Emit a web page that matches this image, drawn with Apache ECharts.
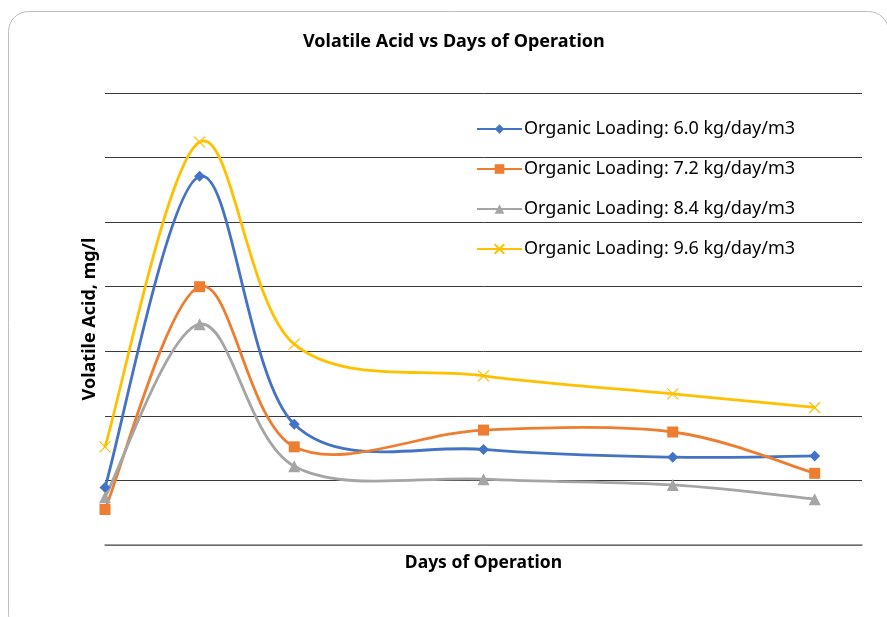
<!DOCTYPE html>
<html>
<head>
<meta charset="utf-8">
<script src="https://cdn.jsdelivr.net/npm/echarts@6/dist/echarts.min.js"></script>
<style>
  html, body { margin: 0; padding: 0; background: #fff; }
  #chart { width: 887px; height: 617px; }
</style>
</head>
<body>
<div id="chart"></div>
<script>
// Values (axis has no tick labels; units are estimated)
const days = [0, 5, 10, 20, 30, 37.5];
const load60 = [8.9, 57.1, 18.7, 14.8, 13.6, 13.8];
const load72 = [5.5, 40.0, 15.2, 17.8, 17.5, 11.1];
const load84 = [7.4, 34.2, 12.2, 10.2, 9.3, 7.1];
const load96 = [15.2, 62.4, 31.1, 26.2, 23.4, 21.3];
const seriesNames = [
    'Organic Loading: 6.0 kg/day/m3',
    'Organic Loading: 7.2 kg/day/m3',
    'Organic Loading: 8.4 kg/day/m3',
    'Organic Loading: 9.6 kg/day/m3'
];
const colors = ['#4472C4', '#ED7D31', '#A5A5A5', '#FFC000'];

const FONT = '"Noto Sans", "Liberation Sans", sans-serif';
const crossPath = 'path://M0,0L10,10M10,0L0,10';
const LINE_W = 2.8;

const pairs = vals => days.map((d, i) => [d, vals[i]]);

// markers + legend entry; the visible curve comes from smoothCurve below
function markerSeries(name, vals, color, symbol, size, extra) {
    return Object.assign({
        name, type: 'line', data: pairs(vals),
        symbol, symbolSize: size,
        lineStyle: { color, width: LINE_W, opacity: 0 },
        itemStyle: { color },
        z: 4
    }, extra || {});
}

// Excel-style smoothing: Catmull-Rom segments as cubic beziers
function smoothCurve(vals, color) {
    return {
        type: 'custom', name: '_curve' + color, data: pairs(vals), z: 3,
        silent: true,
        renderItem(params, api) {
            const i = params.dataIndex;
            if (i >= days.length - 1) return null;
            const p = k => api.coord([days[Math.max(0, Math.min(days.length - 1, k))],
                                       vals[Math.max(0, Math.min(days.length - 1, k))]]);
            const p0 = p(i - 1), p1 = p(i), p2 = p(i + 1), p3 = p(i + 2);
            return {
                type: 'bezierCurve',
                shape: {
                    x1: p1[0], y1: p1[1], x2: p2[0], y2: p2[1],
                    cpx1: p1[0] + (p2[0] - p0[0]) / 6, cpy1: p1[1] + (p2[1] - p0[1]) / 6,
                    cpx2: p2[0] - (p3[0] - p1[0]) / 6, cpy2: p2[1] - (p3[1] - p1[1]) / 6
                },
                style: { stroke: color, lineWidth: LINE_W, fill: null, lineCap: 'round' }
            };
        }
    };
}

const chart = echarts.init(document.getElementById('chart'));
chart.setOption({
    backgroundColor: '#fff',
    animation: false,
    graphic: [{
        type: 'rect', silent: true, z: -10,
        shape: { x: 8.5, y: 11.5, width: 880, height: 622, r: 20 },
        style: { fill: 'none', stroke: '#bdbdbd', lineWidth: 1 }
    }],
    title: {
        text: 'Volatile Acid vs Days of Operation',
        left: 298, top: 28,
        textStyle: { fontFamily: FONT, fontSize: 18, fontWeight: 'bold', color: '#000' }
    },
    legend: {
        orient: 'vertical', left: 471, top: 115,
        itemWidth: 45, itemHeight: 12, itemGap: 22,
        lineStyle: { opacity: 1 },
        textStyle: { fontFamily: FONT, fontSize: 18, color: '#000', padding: [0, 0, 0, -3] },
        data: seriesNames
    },
    grid: { left: 105, right: 25, top: 93, bottom: 72 },
    xAxis: {
        type: 'value', min: 0, max: 40, interval: 5,
        name: 'Days of Operation', nameLocation: 'middle', nameGap: 9,
        nameTextStyle: { fontFamily: FONT, fontSize: 17.5, fontWeight: 'bold', color: '#000' },
        axisLine: { show: true, onZero: false, lineStyle: { color: '#7f7f7f', width: 1.5 } },
        axisTick: { show: false }, axisLabel: { show: false }, splitLine: { show: false }
    },
    yAxis: {
        type: 'value', min: 0, max: 70, interval: 10,
        name: 'Volatile Acid, mg/l', nameLocation: 'middle', nameGap: 6,
        nameTextStyle: { fontFamily: FONT, fontSize: 18, fontWeight: 'bold', color: '#000' },
        axisLine: { show: false }, axisTick: { show: false }, axisLabel: { show: false },
        splitLine: { lineStyle: { color: '#3a3a3a', width: 1 } }
    },
    series: [
        smoothCurve(load60, colors[0]),
        smoothCurve(load72, colors[1]),
        smoothCurve(load84, colors[2]),
        smoothCurve(load96, colors[3]),
        markerSeries(seriesNames[0], load60, colors[0], 'diamond', 11),
        markerSeries(seriesNames[1], load72, colors[1], 'rect', 11),
        markerSeries(seriesNames[2], load84, colors[2], 'triangle', 12),
        markerSeries(seriesNames[3], load96, colors[3], crossPath, 11, {
            itemStyle: { color: 'none', borderColor: colors[3], borderWidth: 1.2 }
        })
    ]
});
</script>
</body>
</html>
